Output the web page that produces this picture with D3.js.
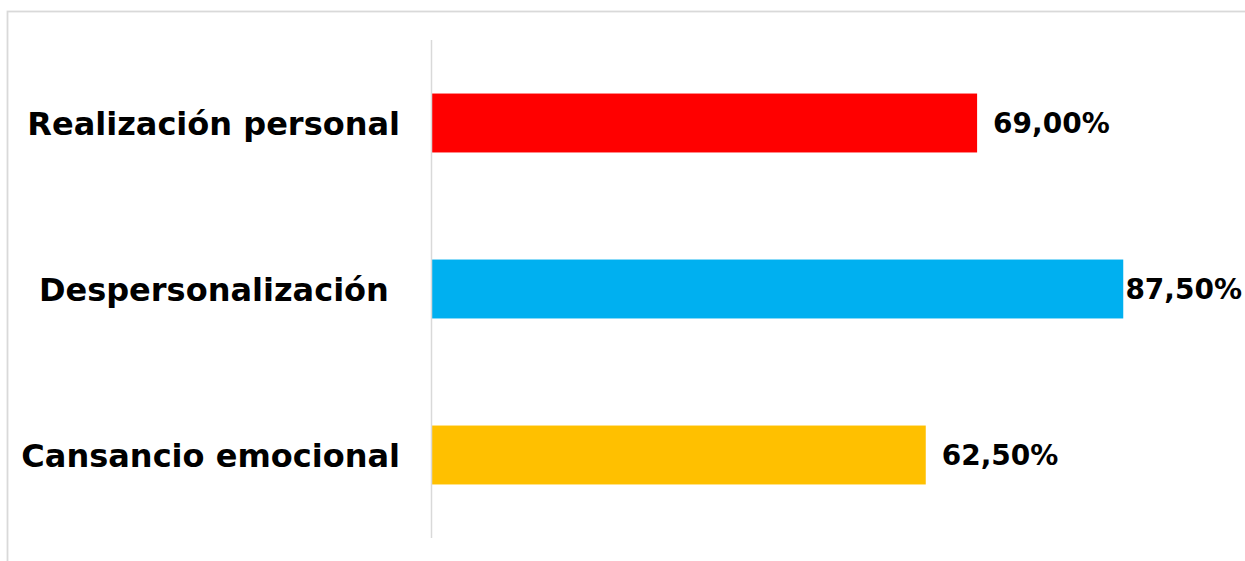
<!DOCTYPE html>
<html><head><meta charset="utf-8">
<script src="https://cdn.jsdelivr.net/npm/d3@7"></script>
<style>html,body{margin:0;padding:0;background:#fff;}svg{display:block;}</style>
</head><body>
<svg id="chart" width="1245" height="561"></svg>
<script>
const categories = ["Realización personal", "Despersonalización ", "Cansancio emocional"];
const values = [69.0, 87.5, 62.5];
const valueLabels = ["69,00%", "87,50%", "62,50%"];
const colors = ["#FF0000", "#00B0F0", "#FFC000"];

const svg = d3.select("#chart");
const W = 1245, H = 561;

svg.append("rect").attr("x", 7.5).attr("y", 11.5).attr("width", 1300).attr("height", 600)
  .attr("fill", "#fff").attr("stroke", "#d9d9d9").attr("stroke-width", 1.8);

const x = d3.scaleLinear().domain([0, 100]).range([432, 1222]);
const y = d3.scaleBand().domain(categories).range([40, 538]).paddingInner(0.645).paddingOuter(0.3225);

const data = categories.map((c, i) => ({c, v: values[i], l: valueLabels[i], col: colors[i]}));

svg.selectAll("rect.bar").data(data).enter().append("rect").attr("class", "bar")
  .attr("x", x(0)).attr("y", d => y(d.c)).attr("width", d => x(d.v) - x(0)).attr("height", y.bandwidth())
  .attr("fill", d => d.col);

svg.append("line").attr("x1", 431.5).attr("x2", 431.5).attr("y1", 40).attr("y2", 538)
  .attr("stroke", "#d9d9d9").attr("stroke-width", 1.5);

svg.selectAll("text.cat").data(data).enter().append("text").attr("class", "cat")
  .attr("x", 400).attr("y", d => y(d.c) + y.bandwidth() / 2).attr("dy", "0.36em")
  .attr("text-anchor", "end").style("white-space", "pre")
  .attr("font-family", "DejaVu Sans").attr("font-weight", "bold").attr("font-size", 32)
  .attr("fill", "#000").text(d => d.c);

svg.selectAll("text.val").data(data).enter().append("text").attr("class", "val")
  .attr("y", d => y(d.c) + y.bandwidth() / 2).attr("dy", "0.36em")
  .attr("font-family", "DejaVu Sans").attr("font-weight", "bold").attr("font-size", 28)
  .attr("fill", "#000").text(d => d.l)
  .attr("x", function(d) {
    const w = this.getComputedTextLength();
    return Math.min(x(d.v) + 16, W - 3 - w);
  });
</script>
</body></html>
